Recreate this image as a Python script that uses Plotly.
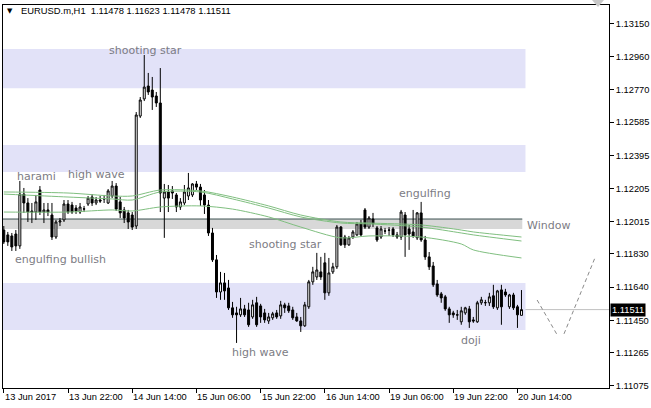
import plotly.graph_objects as go

# ---------------- data (EURUSD.m, H1) ----------------
bar_index = list(range(130))

open_ = [1.11967, 1.11939, 1.11933, 1.11944, 1.11876, 1.12173, 1.12122, 1.12076, 1.12070, 1.12196,
         1.12070, 1.12082, 1.12053, 1.11927, 1.12013, 1.12025, 1.12116, 1.12110, 1.12093, 1.12070,
         1.12087, 1.12116, 1.12156, 1.12122, 1.12139, 1.12145, 1.12122, 1.12162, 1.12219, 1.12128,
         1.12082, 1.12065, 1.12053, 1.11990, 1.12620, 1.12718, 1.12792, 1.12769, 1.12735, 1.12695,
         1.12150, 1.12185, 1.12191, 1.12168, 1.12099, 1.12122, 1.12162, 1.12168, 1.12231, 1.12213,
         1.12168, 1.12110, 1.11950, 1.11796, 1.11612, 1.11664, 1.11635, 1.11521, 1.11492, 1.11481,
         1.11515, 1.11509, 1.11469, 1.11550, 1.11532, 1.11492, 1.11446, 1.11464, 1.11492, 1.11475,
         1.11538, 1.11532, 1.11509, 1.11469, 1.11446, 1.11418, 1.11527, 1.11670, 1.11698, 1.11727,
         1.11779, 1.11607, 1.11727, 1.11756, 1.11984, 1.11927, 1.11882, 1.11927, 1.11939, 1.12007,
         1.12082, 1.11984, 1.12030, 1.11979, 1.11927, 1.11962, 1.11967, 1.11973, 1.11939, 1.11927,
         1.12053, 1.11973, 1.11956, 1.11922, 1.12065, 1.11910, 1.11813, 1.11761, 1.11658, 1.11601,
         1.11584, 1.11515, 1.11492, 1.11481, 1.11441, 1.11492, 1.11515, 1.11452, 1.11441, 1.11550,
         1.11550, 1.11550, 1.11590, 1.11521, 1.11624, 1.11612, 1.11527, 1.11595, 1.11527, 1.11478]

high = [1.11990, 1.11956, 1.11950, 1.11967, 1.12248, 1.12208, 1.12150, 1.12122, 1.12168, 1.12219,
        1.12122, 1.12122, 1.12122, 1.12025, 1.12036, 1.12139, 1.12139, 1.12128, 1.12110, 1.12122,
        1.12105, 1.12162, 1.12173, 1.12156, 1.12162, 1.12168, 1.12202, 1.12248, 1.12236, 1.12156,
        1.12099, 1.12082, 1.12070, 1.12643, 1.12729, 1.12970, 1.12867, 1.12844, 1.12758, 1.12895,
        1.12231, 1.12225, 1.12219, 1.12179, 1.12150, 1.12225, 1.12294, 1.12236, 1.12248, 1.12231,
        1.12196, 1.12139, 1.11979, 1.11824, 1.11727, 1.11721, 1.11681, 1.11555, 1.11527, 1.11578,
        1.11538, 1.11550, 1.11567, 1.11584, 1.11544, 1.11515, 1.11492, 1.11498, 1.11509, 1.11561,
        1.11550, 1.11550, 1.11527, 1.11492, 1.11469, 1.11555, 1.11681, 1.11756, 1.11836, 1.11813,
        1.11836, 1.11807, 1.11779, 1.11996, 1.11990, 1.11939, 1.11933, 1.11967, 1.12013, 1.12025,
        1.12093, 1.12047, 1.12065, 1.11990, 1.11990, 1.11979, 1.11984, 1.11984, 1.11956, 1.12082,
        1.12070, 1.11996, 1.12082, 1.12070, 1.12128, 1.11933, 1.11841, 1.11784, 1.11681, 1.11612,
        1.11595, 1.11527, 1.11504, 1.11509, 1.11527, 1.11527, 1.11532, 1.11469, 1.11561, 1.11584,
        1.11567, 1.11607, 1.11653, 1.11624, 1.11653, 1.11630, 1.11601, 1.11607, 1.11538, 1.11623]

low = [1.11887, 1.11876, 1.11847, 1.11847, 1.11859, 1.12065, 1.12013, 1.12007, 1.12025, 1.12053,
       1.12007, 1.12047, 1.11910, 1.11916, 1.11990, 1.12013, 1.12059, 1.12059, 1.12059, 1.12059,
       1.12070, 1.12105, 1.12105, 1.12110, 1.12122, 1.12122, 1.12116, 1.12150, 1.12076, 1.12036,
       1.12007, 1.11973, 1.11967, 1.11973, 1.12609, 1.12706, 1.12741, 1.12655, 1.12672, 1.12070,
       1.11922, 1.12070, 1.12145, 1.12070, 1.12082, 1.12110, 1.12139, 1.12156, 1.12196, 1.12105,
       1.12059, 1.11933, 1.11784, 1.11578, 1.11567, 1.11567, 1.11509, 1.11464, 1.11320, 1.11469,
       1.11469, 1.11412, 1.11458, 1.11412, 1.11435, 1.11435, 1.11429, 1.11452, 1.11458, 1.11458,
       1.11492, 1.11492, 1.11452, 1.11441, 1.11383, 1.11412, 1.11515, 1.11653, 1.11681, 1.11681,
       1.11567, 1.11590, 1.11715, 1.11744, 1.11876, 1.11864, 1.11876, 1.11916, 1.11933, 1.11933,
       1.11973, 1.11973, 1.11984, 1.11899, 1.11916, 1.11944, 1.11933, 1.11927, 1.11916, 1.11910,
       1.11813, 1.11853, 1.11922, 1.11910, 1.11899, 1.11796, 1.11738, 1.11641, 1.11584, 1.11550,
       1.11504, 1.11435, 1.11464, 1.11452, 1.11424, 1.11481, 1.11406, 1.11435, 1.11435, 1.11538,
       1.11532, 1.11532, 1.11515, 1.11509, 1.11424, 1.11584, 1.11515, 1.11509, 1.11406, 1.11478]

close = [1.11899, 1.11899, 1.11870, 1.11876, 1.12173, 1.12122, 1.12070, 1.12070, 1.12128, 1.12070,
         1.12082, 1.12070, 1.11927, 1.12013, 1.12019, 1.12116, 1.12070, 1.12070, 1.12076, 1.12099,
         1.12088, 1.12150, 1.12122, 1.12139, 1.12133, 1.12146, 1.12191, 1.12219, 1.12087, 1.12065,
         1.12036, 1.12013, 1.11984, 1.12626, 1.12712, 1.12786, 1.12758, 1.12729, 1.12695, 1.12179,
         1.12185, 1.12150, 1.12179, 1.12099, 1.12128, 1.12185, 1.12208, 1.12231, 1.12213, 1.12139,
         1.12110, 1.11950, 1.11796, 1.11612, 1.11664, 1.11618, 1.11521, 1.11481, 1.11481, 1.11515,
         1.11481, 1.11424, 1.11538, 1.11424, 1.11469, 1.11452, 1.11469, 1.11487, 1.11469, 1.11538,
         1.11521, 1.11504, 1.11464, 1.11446, 1.11418, 1.11538, 1.11670, 1.11727, 1.11738, 1.11698,
         1.11607, 1.11721, 1.11756, 1.11984, 1.11882, 1.11882, 1.11922, 1.11956, 1.12002, 1.11939,
         1.11984, 1.12036, 1.12002, 1.11910, 1.11973, 1.11961, 1.11966, 1.11939, 1.11927, 1.12070,
         1.11939, 1.11944, 1.11933, 1.12065, 1.11910, 1.11813, 1.11756, 1.11653, 1.11595, 1.11578,
         1.11515, 1.11481, 1.11481, 1.11480, 1.11504, 1.11521, 1.11441, 1.11446, 1.11550, 1.11567,
         1.11551, 1.11584, 1.11527, 1.11618, 1.11527, 1.11595, 1.11595, 1.11521, 1.11481, 1.11511]

# moving averages (sampled at bar indices)
ma_index = [0, 16, 27, 32, 39, 49, 57, 66, 74, 84, 91, 104, 114, 117, 129]
ma_a = [1.12185, 1.12179, 1.12162, 1.12162, 1.12196, 1.12191, 1.12156, 1.12105, 1.12053, 1.12013,
        1.12007, 1.11996, 1.11967, 1.11956, 1.11927]
ma_b = [1.12173, 1.12156, 1.12145, 1.12139, 1.12185, 1.12185, 1.12145, 1.12093, 1.12042, 1.12007,
        1.12002, 1.11984, 1.11950, 1.11939, 1.11904]
ma_c = [1.12070, 1.12070, 1.12082, 1.12076, 1.12099, 1.12105, 1.12087, 1.12042, 1.11984, 1.11922,
        1.11933, 1.11927, 1.11887, 1.11853, 1.11807]

# projected zig-zag (dashed)
zig_x = [132.9, 137.9, None, 139.6, 147.3]
zig_y = [1.11566, 1.11366, None, 1.11372, 1.11807]

# zones
zones = [(1.12780, 1.13004), (1.12299, 1.12454), (1.11394, 1.11663)]
zone_end = 130.0
window_zone = (1.11973, 1.12030)
window_end = 129.2
last_price = 1.11511

y_ticks = [1.11075, 1.11265, 1.11450, 1.11640, 1.11830, 1.12015, 1.12205, 1.12395,
           1.12585, 1.12770, 1.12960, 1.13150]
x_tick_pos = [0, 16, 32, 48, 64, 80, 96, 112, 128]
x_tick_text = ["13 Jun 2017", "13 Jun 22:00", "14 Jun 14:00", "15 Jun 06:00", "15 Jun 22:00",
               "16 Jun 14:00", "19 Jun 06:00", "19 Jun 22:00", "20 Jun 14:00"]

pattern_labels = ["shooting star", "harami", "high wave", "engulfing bullish",
                  "shooting star", "engulfing", "high wave", "doji", "Window"]
pattern_px = [(145, 50), (36, 176), (96, 174), (60, 259), (285, 244), (425, 193),
              (260, 352), (471, 340), (548, 225)]

header = "EURUSD.m,H1  1.11478 1.11623 1.11478 1.11511"

# ---------------- figure ----------------
W, H = 651, 408
L, R, T, B = 3, 609, 5, 388


def px(x):
    return (x - L) / (R - L)


def py(y):
    return (B - y) / (B - T)


FONT = "Liberation Sans"
fig = go.Figure()

fig.add_trace(go.Candlestick(
    x=bar_index, open=open_, high=high, low=low, close=close,
    increasing=dict(line=dict(color="black", width=1), fillcolor="white"),
    decreasing=dict(line=dict(color="black", width=1), fillcolor="black"),
    whiskerwidth=0, hoverinfo="skip", showlegend=False))

for ma in (ma_a, ma_b, ma_c):
    fig.add_trace(go.Scatter(x=ma_index, y=ma, mode="lines",
                             line=dict(color="#80bf80", width=1, shape="spline", smoothing=0.8),
                             hoverinfo="skip", showlegend=False))

fig.add_trace(go.Scatter(x=zig_x, y=zig_y, mode="lines",
                         line=dict(color="#8a8a8a", width=1, dash="4px,3px"),
                         hoverinfo="skip", showlegend=False, cliponaxis=False))

shapes = []
for lo_, hi_ in zones:
    shapes.append(dict(type="rect", xref="x", yref="y", x0=-2, x1=zone_end, y0=lo_, y1=hi_,
                       fillcolor="#e2e2f8", line=dict(width=0), layer="below"))
shapes.append(dict(type="rect", xref="x", yref="y", x0=-2, x1=window_end,
                   y0=window_zone[0], y1=window_zone[1],
                   fillcolor="#d8d8d8", line=dict(width=0), layer="below"))
shapes.append(dict(type="line", xref="paper", yref="y", x0=0, x1=1, y0=last_price, y1=last_price,
                   line=dict(color="#c0c0c0", width=1), layer="below"))
shapes.append(dict(type="line", xref="x", yref="y", x0=-2, x1=window_end,
                   y0=window_zone[1], y1=window_zone[1],
                   line=dict(color="#3a5050", width=1), layer="below"))
# chart-shift marker at the top right
shapes.append(dict(type="path", xref="paper", yref="paper",
                   path=f"M {px(592)} {py(0)} L {px(604)} {py(0)} L {px(598)} {py(7)} Z",
                   fillcolor="#c8c8c8", line=dict(width=0)))

annotations = []
for txt, (ax, ay) in zip(pattern_labels, pattern_px):
    annotations.append(dict(text=txt, xref="paper", yref="paper", x=px(ax), y=py(ay),
                            xanchor="center", yanchor="middle", showarrow=False,
                            font=dict(family="DejaVu Sans", size=11, color="#7c7c84")))
annotations.append(dict(text="▼", xref="paper", yref="paper", x=px(10), y=py(11),
                        xanchor="center", yanchor="middle", showarrow=False,
                        font=dict(family="DejaVu Sans", size=7, color="black")))
annotations.append(dict(text=header, xref="paper", yref="paper", x=px(19), y=py(11),
                        xanchor="left", yanchor="middle", showarrow=False,
                        font=dict(family=FONT, size=9.4, color="black")))
for pos, txt in zip(x_tick_pos, x_tick_text):
    annotations.append(dict(text=txt, xref="x", yref="paper", x=pos, y=py(397),
                            xanchor="left", yanchor="middle", xshift=-1, showarrow=False,
                            font=dict(family=FONT, size=9.3, color="black")))
annotations.append(dict(text=f"{last_price:.5f}", xref="paper", yref="y", x=1, y=last_price,
                        xanchor="left", yanchor="middle", xshift=1, showarrow=False,
                        bgcolor="black", borderpad=1,
                        font=dict(family=FONT, size=9.3, color="white")))

x_lo = (L - 3.8) / 4.013
x_hi = (R - 3.8) / 4.013
y_lo = 1.13285 - 0.0000573 * B
y_hi = 1.13285 - 0.0000573 * T

fig.update_layout(
    width=W, height=H, margin=dict(l=L, r=W - R, t=T, b=H - B, pad=0),
    paper_bgcolor="white", plot_bgcolor="white", showlegend=False,
    hovermode=False, shapes=shapes, annotations=annotations,
    xaxis=dict(range=[x_lo, x_hi], rangeslider=dict(visible=False), showgrid=False,
               zeroline=False, showline=True, mirror=True, linecolor="black", linewidth=1,
               tickvals=x_tick_pos, showticklabels=False, ticks="outside", ticklen=4,
               tickcolor="black", tickwidth=1),
    yaxis=dict(range=[y_lo, y_hi], side="right", showgrid=False, zeroline=False,
               showline=True, mirror=True, linecolor="black", linewidth=1,
               tickvals=y_ticks, ticktext=[f"{v:.5f}" for v in y_ticks],
               ticks="outside", ticklen=4, tickcolor="black", tickwidth=1,
               automargin=False,
               tickfont=dict(family=FONT, size=9.3, color="black")),
)

fig.write_html("out.html", config={"displayModeBar": False, "staticPlot": True},
               post_script="document.body.style.margin='0px';document.body.style.overflow='hidden';")
